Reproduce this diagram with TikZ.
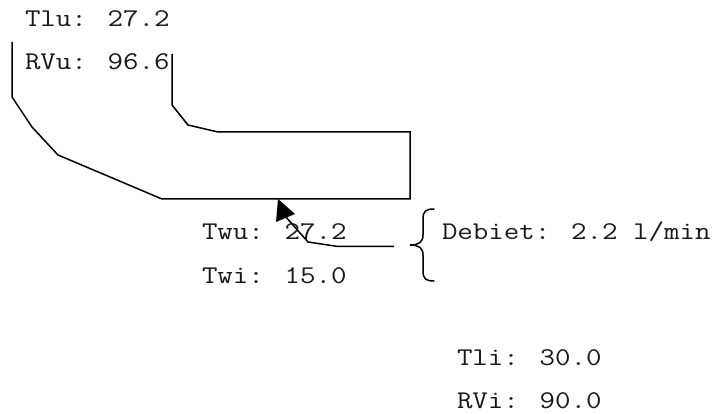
\documentclass[tikz,border=0pt]{standalone}
\usepackage{fontspec}
\setmainfont{Latin Modern Mono}[FakeStretch=1.18]
\begin{document}
\begin{tikzpicture}[x=1pt,y=-1pt,
  lbl/.style={anchor=base west,inner sep=0pt,outer sep=0pt,font=\fontsize{25.5pt}{30pt}\selectfont,text=black!90},
  ln/.style={line width=1.5pt,line join=miter}]
\useasboundingbox (0,0) rectangle (716,414);
\node[lbl] (tlu) at (25,27) {Tlu: 27.2};
\node[lbl] (rvu) at (25,70) {RVu: 96.6};
\node[lbl] (twu) at (202,240) {Twu: 27.2};
\node[lbl] (twi) at (202,284) {Twi: 15.0};
\node[lbl] (deb) at (442,240) {Debiet: 2.2 l/min};
\node[lbl] (tli) at (457,366) {Tli: 30.0};
\node[lbl] (rvi) at (457,409) {RVi: 90.0};
\draw[ln] (12,42) -- (12,97) -- (32,127) -- (58,155) -- (162,199) -- (410,199) -- (410,132) -- (218,132) -- (188,125) -- (172,105) -- (172,54);
\coordinate (as) at (394,246.5);
\coordinate (at) at (285,216);
\draw[ln] (as) -- (338,246.5) -- (308,242) -- (at);
\fill (278,199) -- (295,214) -- (276,222) -- cycle;
\draw[ln,line cap=round] (434,209) .. controls (426,209) and (423,211) .. (423,219)
  -- (423,235) .. controls (423,242) and (419,245) .. (410,245)
  .. controls (419,245) and (423,248) .. (423,255) -- (423,271)
  .. controls (423,279) and (426,281) .. (434,281);
\end{tikzpicture}
\end{document}
